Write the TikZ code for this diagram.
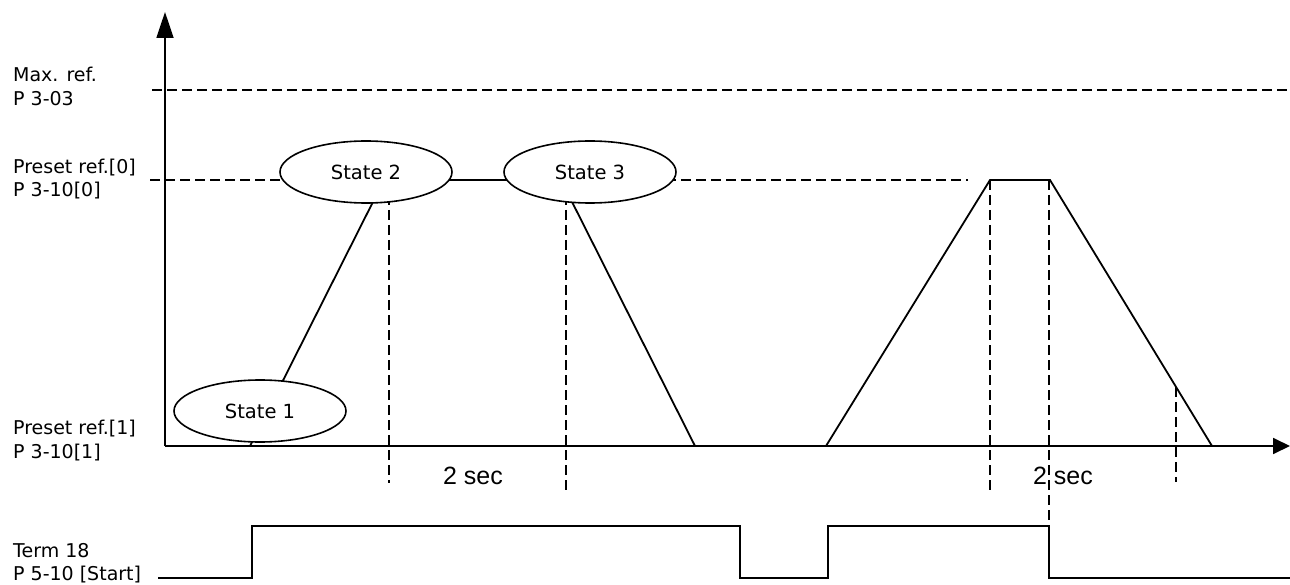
\documentclass[tikz,border=0pt]{standalone}
\usepackage{fontspec}
\newfontfamily\labfont{DejaVu Sans}
\newfontfamily\secfont{Liberation Sans}
\usetikzlibrary{arrows.meta,shapes.geometric}
\tikzset{
  lab/.style={font=\labfont\fontsize{19}{23}\selectfont, anchor=base west, inner sep=0pt},
  statebox/.style={ellipse, draw, fill=white, line width=1.6pt, minimum width=172pt, minimum height=62pt, inner sep=0pt, font=\labfont\fontsize{19.5}{23}\selectfont},
  dsh/.style={dash pattern=on 10pt off 5pt, line width=1.6pt},
  trace/.style={line width=1.8pt, line join=miter},
  seclab/.style={font=\secfont\fontsize{25}{28}\selectfont, inner sep=0pt},
}
\begin{document}
\begin{tikzpicture}[x=1pt,y=-1pt]
\useasboundingbox (0,0) rectangle (1290,585);
% key coordinates
\coordinate (o) at (165,446);
\coordinate (ytip) at (165,12);
\coordinate (xtip) at (1290,446);
\coordinate (p1) at (250,446);
\coordinate (p2) at (384,180);
\coordinate (p3) at (561,180);
\coordinate (p4) at (695,446);
\coordinate (p5) at (826,446);
\coordinate (p6) at (990,180);
\coordinate (p7) at (1050,180);
\coordinate (p8) at (1212,446);
% dashed reference lines
\coordinate (m0) at (152,90);
\coordinate (m1) at (1290,90);
\draw[dsh] (m0) -- (m1);
\coordinate (r0) at (150,180);
\coordinate (r1) at (968,180);
\draw[dsh] (r0) -- (p2);
\draw[dsh] (p3) -- (r1);
% dashed verticals
\coordinate (v1a) at (389,180); \coordinate (v1b) at (389,483);
\coordinate (v2a) at (566,180); \coordinate (v2b) at (566,491);
\coordinate (v3b) at (990,491);
\coordinate (v4a) at (1049,180); \coordinate (v4b) at (1049,526);
\coordinate (v5a) at (1176,387); \coordinate (v5b) at (1176,482);
\draw[dsh] (v1a) -- (v1b);
\draw[dsh] (v2a) -- (v2b);
\draw[dsh] (p6) -- (v3b);
\draw[dsh] (v4a) -- (v4b);
\draw[dsh] (v5a) -- (v5b);
% trace
\draw[trace] (p1) -- (p2) -- (p3) -- (p4) -- (p5) -- (p6) -- (p7) -- (p8);
% axes
\draw[line width=1.8pt, -{Triangle[length=26pt,width=17pt]}] (o) -- (ytip);
\draw[line width=1.8pt, -{Triangle[length=17pt,width=16pt]}] (o) -- (xtip);
% states
\node[statebox] (s1) at (260,411) {State 1};
\node[statebox] (s2) at (366,172) {State 2};
\node[statebox] (s3) at (590,172) {State 3};
% left labels
\node[lab] (lmax1) at (13,82) {Max. ref.};
\node[lab] (lmax2) at (13,106) {P 3-03};
\node[lab] (lp01) at (13,174) {Preset ref.[0]};
\node[lab] (lp02) at (13,197) {P 3-10[0]};
\node[lab] (lp11) at (13,434) {Preset ref.[1]};
\node[lab] (lp12) at (13,458) {P 3-10[1]};
\node[lab] (lt1) at (13,557) {Term 18};
\node[lab] (lt2) at (13,580) {P 5-10 [Start]};
% time labels
\node[seclab] (t1) at (473,476) {2 sec};
\node[seclab] (t2) at (1063,476) {2 sec};
% start signal
\coordinate (g0) at (158,578);
\coordinate (g1) at (252,578);
\coordinate (g2) at (252,526);
\coordinate (g3) at (740,526);
\coordinate (g4) at (740,578);
\coordinate (g5) at (828,578);
\coordinate (g6) at (828,526);
\coordinate (g7) at (1049,526);
\coordinate (g8) at (1049,578);
\coordinate (g9) at (1290,578);
\draw[trace] (g0) -- (g1) -- (g2) -- (g3) -- (g4) -- (g5) -- (g6) -- (g7) -- (g8) -- (g9);
\end{tikzpicture}
\end{document}
